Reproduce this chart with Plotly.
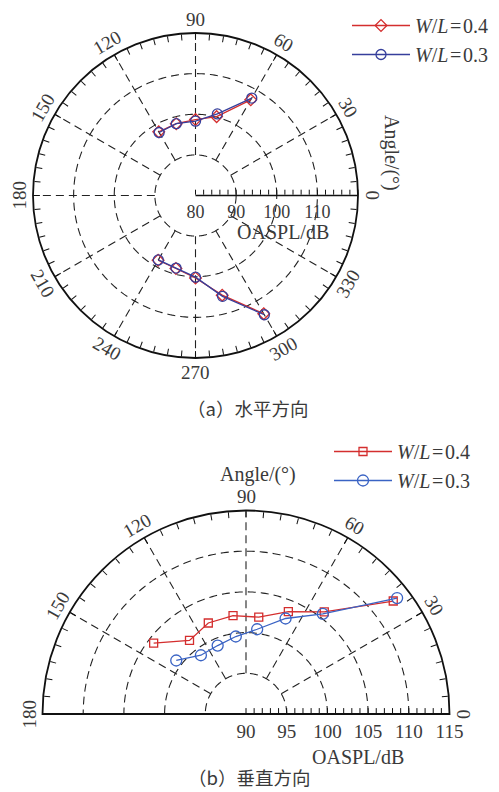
import numpy as np
import plotly.graph_objects as go

# ---------------- data ----------------
# (a) horizontal direction
a_theta_upper = [60, 75, 90, 105, 120]
a_theta_lower = [240, 255, 270, 285, 300]
a_r04_upper = [107.2, 100.1, 98.7, 98.3, 98.1]
a_r04_lower = [98.4, 98.6, 100.3, 105.4, 113.6]
a_r03_upper = [107.7, 100.8, 98.3, 98.3, 97.9]
a_r03_lower = [98.3, 98.5, 100.1, 105.7, 113.9]

# (b) vertical direction
b_theta = [37.5, 52.5, 67.5, 82.5, 97.5, 112.5, 127.5, 142.5]
b_r04 = [112.8, 105.8, 103.6, 102.0, 102.2, 102.1, 101.4, 104.3]
b_r03 = [113.4, 105.5, 102.7, 100.5, 99.6, 99.1, 99.1, 100.8]

series_names = ["<i>W</i>/<i>L</i>\u200a=\u200a0.4", "<i>W</i>/<i>L</i>\u200a=\u200a0.3"]

a_rtick_labels = [80, 90, 100, 110]
b_rtick_labels = [90, 95, 100, 105, 110, 115]
a_theta_labels = list(range(0, 360, 30))
b_theta_labels = list(range(0, 181, 30))

# ---------------- style ----------------
W, H = 499, 792
FONT = "Liberation Serif"
TXT = "#3a3a3a"
RED = "#d42e2e"
BLUE_A = "#363f9c"
BLUE_B = "#3a63c4"
DASH = "8px,5px"

TOP_CX, TOP_CY, TOP_R = 195.5, 195.5, 162.5
BOT_CX, BOT_CY, BOT_R = 246.0, 714.0, 203.5

fig = go.Figure()


def gap_join(a, b):
    return list(a) + [None] + list(b)


# ---- grids (a) ----
circ = np.linspace(0, 360, 361)
for rv in [90, 100, 110]:
    fig.add_trace(go.Scatterpolar(r=[rv] * len(circ), theta=circ, mode="lines",
                                  line=dict(color="#222", width=1.1, dash=DASH),
                                  showlegend=False, hoverinfo="skip", subplot="polar"))
for t in range(30, 360, 30):
    fig.add_trace(go.Scatterpolar(r=[90, 120], theta=[t, t], mode="lines",
                                  line=dict(color="#222", width=1.1, dash=DASH),
                                  showlegend=False, hoverinfo="skip", subplot="polar"))

# ---- grids (b) ----
arc = np.linspace(0, 180, 181)
for rv in [95, 100, 105, 110]:
    fig.add_trace(go.Scatterpolar(r=[rv] * len(arc), theta=arc, mode="lines",
                                  line=dict(color="#222", width=1.1, dash=DASH),
                                  showlegend=False, hoverinfo="skip", subplot="polar2"))
for t in range(30, 180, 30):
    fig.add_trace(go.Scatterpolar(r=[95, 115], theta=[t, t], mode="lines",
                                  line=dict(color="#222", width=1.1, dash=DASH),
                                  showlegend=False, hoverinfo="skip", subplot="polar2"))
fig.add_trace(go.Scatterpolar(r=[115, 90], theta=[180, 180], mode="lines",
                              line=dict(color="#111", width=1.8),
                              showlegend=False, hoverinfo="skip", subplot="polar2"))

# ---- data traces (a) ----
fig.add_trace(go.Scatterpolar(
    r=gap_join(a_r04_upper, a_r04_lower), theta=gap_join(a_theta_upper, a_theta_lower),
    mode="lines+markers", name=series_names[0], connectgaps=False,
    line=dict(color=RED, width=1.3),
    marker=dict(symbol="diamond-open", size=9, color=RED, line=dict(width=1.3)),
    subplot="polar", legend="legend"))
fig.add_trace(go.Scatterpolar(
    r=gap_join(a_r03_upper, a_r03_lower), theta=gap_join(a_theta_upper, a_theta_lower),
    mode="lines+markers", name=series_names[1], connectgaps=False,
    line=dict(color=BLUE_A, width=1.3),
    marker=dict(symbol="circle-open", size=10, color=BLUE_A, line=dict(width=1.3)),
    subplot="polar", legend="legend"))

# ---- data traces (b) ----
fig.add_trace(go.Scatterpolar(
    r=b_r04, theta=b_theta, mode="lines+markers", name=series_names[0],
    line=dict(color=RED, width=1.3),
    marker=dict(symbol="square-open", size=8, color=RED, line=dict(width=1.3)),
    subplot="polar2", legend="legend2"))
fig.add_trace(go.Scatterpolar(
    r=b_r03, theta=b_theta, mode="lines+markers", name=series_names[1],
    line=dict(color=BLUE_B, width=1.3),
    marker=dict(symbol="circle-open", size=11, color=BLUE_B, line=dict(width=1.3)),
    subplot="polar2", legend="legend2"))


def dom_full(cx, cy, R):
    return dict(x=[(cx - R) / W, (cx + R) / W], y=[1 - (cy + R) / H, 1 - (cy - R) / H])


def dom_half(cx, cy, R):
    return dict(x=[(cx - R) / W, (cx + R) / W], y=[1 - cy / H, 1 - (cy - R) / H])


a_rvals = list(range(80, 121, 2))
b_rvals = list(range(90, 116, 1))

fig.update_layout(
    width=W, height=H, margin=dict(l=0, r=0, t=0, b=0),
    paper_bgcolor="white", plot_bgcolor="white",
    font=dict(family=FONT, color=TXT, size=17),
    polar=dict(
        domain=dom_full(TOP_CX, TOP_CY, TOP_R), bgcolor="white",
        radialaxis=dict(range=[80, 120], angle=0, side="clockwise",
                        tickvals=a_rvals,
                        ticktext=[str(v) if v in a_rtick_labels else "" for v in a_rvals],
                        ticks="inside", ticklen=5, tickcolor="#111", tickwidth=1,
                        showline=True, linecolor="#111", linewidth=1.6,
                        showgrid=False, tickfont=dict(size=18, family=FONT, color=TXT),
                        tickangle=0),
        angularaxis=dict(rotation=0, direction="counterclockwise",
                         tickvals=list(range(0, 360, 5)),
                         ticks="inside", ticklen=6, tickcolor="#111", tickwidth=1,
                         showticklabels=False, showgrid=False,
                         showline=True, linecolor="#111", linewidth=1.8),
    ),
    polar2=dict(
        domain=dom_half(BOT_CX, BOT_CY, BOT_R), bgcolor="white",
        sector=[0, 180],
        radialaxis=dict(range=[90, 115], angle=0, side="clockwise",
                        tickvals=b_rvals,
                        ticktext=[str(v) if v in b_rtick_labels else "" for v in b_rvals],
                        ticks="inside", ticklen=5, tickcolor="#111", tickwidth=1,
                        showline=True, linecolor="#111", linewidth=1.8,
                        showgrid=False, tickfont=dict(size=19, family=FONT, color=TXT),
                        tickangle=0),
        angularaxis=dict(rotation=0, direction="counterclockwise",
                         tickvals=list(range(0, 181, 5)),
                         ticks="inside", ticklen=6, tickcolor="#111", tickwidth=1,
                         showticklabels=False, showgrid=False,
                         showline=True, linecolor="#111", linewidth=1.8),
    ),
    legend=dict(x=347 / W, y=1 - 6 / H, xanchor="left", yanchor="top",
                bgcolor="rgba(0,0,0,0)", font=dict(size=20, family=FONT, color=TXT),
                tracegroupgap=0, itemwidth=58),
    legend2=dict(x=329 / W, y=1 - 432 / H, xanchor="left", yanchor="top",
                 bgcolor="rgba(0,0,0,0)", font=dict(size=20, family=FONT, color=TXT),
                 tracegroupgap=0, itemwidth=58),
    showlegend=True,
)

annotations = []


def ang_label(cx, cy, rad, t):
    x = cx + rad * np.cos(np.radians(t))
    y = cy - rad * np.sin(np.radians(t))
    rot = 90 - t if t <= 180 else 270 - t
    return dict(x=x / W, y=1 - y / H, xref="paper", yref="paper", text=str(t),
                showarrow=False, textangle=rot, xanchor="center", yanchor="middle",
                font=dict(size=19, family=FONT, color=TXT))


for t in a_theta_labels:
    annotations.append(ang_label(TOP_CX, TOP_CY, TOP_R + 14, t))
for t in b_theta_labels:
    annotations.append(ang_label(BOT_CX, BOT_CY, BOT_R + 14, t))


def txt(x, y, s, size=18, angle=0, family=FONT):
    return dict(x=x / W, y=1 - y / H, xref="paper", yref="paper", text=s, showarrow=False,
                textangle=angle, xanchor="center", yanchor="middle",
                font=dict(size=size, family=family, color=TXT))


annotations += [
    txt(283, 232, "OASPL/dB", 20),
    txt(391, 153, "Angle/(°)", 20, angle=90),
    txt(258, 475, "Angle/(°)", 20),
    txt(358, 757, "OASPL/dB", 20),
    txt(247, 408, "（a）水平方向", 18.5, family="Noto Sans CJK SC"),
    txt(249, 777, "（b）垂直方向", 18.5, family="Noto Sans CJK SC"),
]
fig.update_layout(annotations=annotations)

fig.write_html("out.html")
